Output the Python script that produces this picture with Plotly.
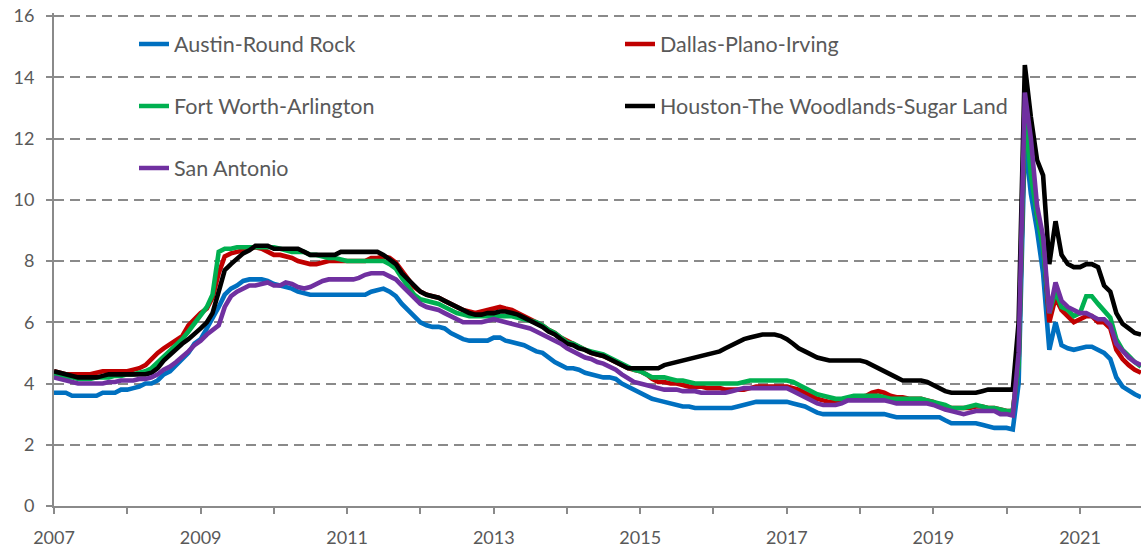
import pandas as pd
import plotly.graph_objects as go

# Monthly series, Jan 2007 - Nov 2021 (percent)
austin = [
    3.7, 3.7, 3.7, 3.6, 3.6, 3.6, 3.6, 3.6, 3.7, 3.7, 3.7, 3.8,          # 2007
    3.8, 3.85, 3.9, 4.0, 4.0, 4.1, 4.3, 4.4, 4.6, 4.8, 5.0, 5.3,         # 2008
    5.45, 5.8, 6.1, 6.5, 6.9, 7.1, 7.2, 7.35, 7.4, 7.4, 7.4, 7.35,       # 2009
    7.25, 7.2, 7.15, 7.1, 7.0, 6.95, 6.9, 6.9, 6.9, 6.9, 6.9, 6.9,       # 2010
    6.9, 6.9, 6.9, 6.9, 7.0, 7.05, 7.1, 7.0, 6.85, 6.6, 6.4, 6.2,        # 2011
    6.0, 5.9, 5.85, 5.85, 5.8, 5.65, 5.55, 5.45, 5.4, 5.4, 5.4, 5.4,     # 2012
    5.5, 5.5, 5.4, 5.35, 5.3, 5.25, 5.15, 5.05, 5.0, 4.85, 4.7, 4.6,     # 2013
    4.5, 4.5, 4.45, 4.35, 4.3, 4.25, 4.2, 4.2, 4.15, 4.0, 3.9, 3.8,      # 2014
    3.7, 3.6, 3.5, 3.45, 3.4, 3.35, 3.3, 3.25, 3.25, 3.2, 3.2, 3.2,      # 2015
    3.2, 3.2, 3.2, 3.2, 3.25, 3.3, 3.35, 3.4, 3.4, 3.4, 3.4, 3.4,        # 2016
    3.4, 3.35, 3.3, 3.25, 3.15, 3.05, 3.0, 3.0, 3.0, 3.0, 3.0, 3.0,      # 2017
    3.0, 3.0, 3.0, 3.0, 3.0, 2.95, 2.9, 2.9, 2.9, 2.9, 2.9, 2.9,         # 2018
    2.9, 2.9, 2.8, 2.7, 2.7, 2.7, 2.7, 2.7, 2.65, 2.6, 2.55, 2.55,       # 2019
    2.55, 2.5, 4.0, 12.0, 10.2, 9.0, 7.6, 5.1, 6.0, 5.25, 5.15, 5.1,     # 2020
    5.15, 5.2, 5.2, 5.1, 5.0, 4.8, 4.2, 3.9, 3.75, 3.65, 3.55,           # 2021
]
dallas = [
    4.4, 4.35, 4.3, 4.3, 4.3, 4.3, 4.3, 4.35, 4.4, 4.4, 4.4, 4.4,
    4.4, 4.45, 4.5, 4.6, 4.8, 5.0, 5.15, 5.3, 5.45, 5.55, 5.9, 6.1,
    6.3, 6.45, 6.8, 7.6, 8.15, 8.25, 8.3, 8.35, 8.4, 8.45, 8.4, 8.3,
    8.2, 8.2, 8.15, 8.1, 8.0, 7.95, 7.9, 7.9, 7.95, 8.0, 8.0, 8.0,
    8.0, 8.0, 8.0, 8.0, 8.1, 8.1, 8.15, 8.1, 7.95, 7.7, 7.4, 7.15,
    7.0, 6.9, 6.85, 6.8, 6.7, 6.6, 6.5, 6.4, 6.35, 6.3, 6.35, 6.4,
    6.45, 6.5, 6.45, 6.4, 6.3, 6.2, 6.1, 6.0, 5.9, 5.75, 5.65, 5.5,
    5.4, 5.3, 5.2, 5.1, 5.0, 4.95, 4.9, 4.8, 4.7, 4.6, 4.5, 4.45,
    4.4, 4.3, 4.15, 4.05, 4.05, 4.0, 4.0, 3.95, 3.9, 3.9, 3.9, 3.85,
    3.85, 3.85, 3.8, 3.8, 3.8, 3.8, 3.85, 3.9, 3.9, 3.9, 3.9, 3.9,
    3.9, 3.85, 3.8, 3.7, 3.6, 3.5, 3.45, 3.4, 3.4, 3.45, 3.5, 3.5,
    3.55, 3.6, 3.7, 3.75, 3.7, 3.6, 3.55, 3.55, 3.5, 3.5, 3.5, 3.45,
    3.4, 3.3, 3.25, 3.2, 3.2, 3.2, 3.2, 3.25, 3.25, 3.2, 3.2, 3.15,
    3.1, 3.1, 4.7, 12.8, 11.5, 9.5, 8.6, 6.0, 6.8, 6.4, 6.2, 6.0,
    6.1, 6.2, 6.2, 6.0, 6.0, 5.8, 5.1, 4.8, 4.6, 4.45, 4.35,
]
fort_worth = [
    4.3, 4.25, 4.2, 4.2, 4.15, 4.15, 4.15, 4.2, 4.2, 4.2, 4.25, 4.25,
    4.3, 4.3, 4.35, 4.4, 4.5, 4.7, 4.9, 5.05, 5.25, 5.45, 5.7, 5.95,
    6.2, 6.5, 6.9, 8.3, 8.4, 8.4, 8.45, 8.45, 8.45, 8.45, 8.45, 8.45,
    8.45, 8.4, 8.35, 8.3, 8.3, 8.3, 8.2, 8.2, 8.15, 8.1, 8.1, 8.05,
    8.0, 8.0, 8.0, 8.0, 8.0, 8.0, 8.0, 7.9, 7.75, 7.45, 7.15, 6.9,
    6.75, 6.7, 6.65, 6.6, 6.5, 6.4, 6.3, 6.25, 6.2, 6.2, 6.2, 6.2,
    6.2, 6.2, 6.2, 6.2, 6.15, 6.1, 6.05, 6.0, 5.9, 5.75, 5.65, 5.5,
    5.35, 5.3, 5.2, 5.1, 5.05, 5.0, 4.95, 4.85, 4.75, 4.65, 4.55, 4.45,
    4.4, 4.3, 4.2, 4.2, 4.2, 4.15, 4.1, 4.1, 4.05, 4.0, 4.0, 4.0,
    4.0, 4.0, 4.0, 4.0, 4.0, 4.05, 4.1, 4.1, 4.1, 4.1, 4.1, 4.1,
    4.1, 4.05, 3.95, 3.85, 3.75, 3.65, 3.6, 3.55, 3.5, 3.5, 3.55, 3.6,
    3.6, 3.6, 3.6, 3.6, 3.55, 3.5, 3.5, 3.5, 3.5, 3.5, 3.5, 3.45,
    3.4, 3.35, 3.3, 3.2, 3.2, 3.2, 3.25, 3.3, 3.25, 3.2, 3.2, 3.15,
    3.1, 3.1, 4.6, 12.9, 10.8, 9.5, 8.4, 6.3, 7.0, 6.5, 6.4, 6.2,
    6.3, 6.85, 6.85, 6.6, 6.4, 6.15, 5.45, 5.1, 4.9, 4.7, 4.55,
]
houston = [
    4.4, 4.35, 4.3, 4.25, 4.2, 4.2, 4.2, 4.2, 4.25, 4.3, 4.3, 4.3,
    4.3, 4.3, 4.3, 4.3, 4.35, 4.5, 4.75, 4.95, 5.15, 5.3, 5.45, 5.6,
    5.8, 6.0, 6.3, 7.0, 7.7, 7.9, 8.05, 8.25, 8.35, 8.5, 8.5, 8.5,
    8.4, 8.4, 8.4, 8.4, 8.4, 8.3, 8.2, 8.2, 8.2, 8.2, 8.2, 8.3,
    8.3, 8.3, 8.3, 8.3, 8.3, 8.3, 8.2, 8.05, 7.9, 7.6, 7.4, 7.2,
    7.0, 6.9, 6.85, 6.8, 6.7, 6.6, 6.5, 6.4, 6.3, 6.25, 6.25, 6.3,
    6.3, 6.35, 6.35, 6.3, 6.25, 6.15, 6.05, 5.95, 5.85, 5.7, 5.6, 5.45,
    5.3, 5.25, 5.15, 5.1, 5.0, 4.95, 4.9, 4.8, 4.7, 4.6, 4.5, 4.5,
    4.5, 4.5, 4.5, 4.5, 4.6, 4.65, 4.7, 4.75, 4.8, 4.85, 4.9, 4.95,
    5.0, 5.05, 5.15, 5.25, 5.35, 5.45, 5.5, 5.55, 5.6, 5.6, 5.6, 5.55,
    5.45, 5.3, 5.15, 5.05, 4.95, 4.85, 4.8, 4.75, 4.75, 4.75, 4.75, 4.75,
    4.75, 4.7, 4.6, 4.5, 4.4, 4.3, 4.2, 4.1, 4.1, 4.1, 4.1, 4.05,
    3.95, 3.85, 3.75, 3.7, 3.7, 3.7, 3.7, 3.7, 3.75, 3.8, 3.8, 3.8,
    3.8, 3.8, 6.0, 14.4, 12.7, 11.3, 10.8, 7.9, 9.3, 8.2, 7.9, 7.8,
    7.8, 7.9, 7.9, 7.8, 7.2, 7.0, 6.3, 5.95, 5.8, 5.65, 5.6,
]
san_antonio = [
    4.2, 4.15, 4.1, 4.05, 4.0, 4.0, 4.0, 4.0, 4.0, 4.05, 4.05, 4.1,
    4.1, 4.1, 4.15, 4.15, 4.2, 4.3, 4.45, 4.55, 4.7, 4.85, 5.05, 5.25,
    5.4, 5.6, 5.75, 5.9, 6.5, 6.85, 7.0, 7.1, 7.2, 7.2, 7.25, 7.3,
    7.2, 7.2, 7.3, 7.25, 7.15, 7.1, 7.15, 7.25, 7.35, 7.4, 7.4, 7.4,
    7.4, 7.4, 7.45, 7.55, 7.6, 7.6, 7.6, 7.5, 7.4, 7.2, 7.0, 6.8,
    6.6, 6.5, 6.45, 6.4, 6.3, 6.2, 6.1, 6.0, 6.0, 6.0, 6.0, 6.05,
    6.1, 6.05, 6.0, 5.95, 5.9, 5.85, 5.8, 5.7, 5.6, 5.5, 5.4, 5.3,
    5.15, 5.05, 4.95, 4.85, 4.8, 4.7, 4.65, 4.55, 4.45, 4.3, 4.15, 4.05,
    4.0, 3.95, 3.9, 3.85, 3.8, 3.8, 3.8, 3.75, 3.75, 3.75, 3.7, 3.7,
    3.7, 3.7, 3.7, 3.75, 3.8, 3.85, 3.85, 3.85, 3.85, 3.85, 3.85, 3.85,
    3.85, 3.75, 3.65, 3.55, 3.45, 3.35, 3.3, 3.3, 3.3, 3.35, 3.45, 3.45,
    3.45, 3.45, 3.45, 3.45, 3.45, 3.4, 3.35, 3.35, 3.35, 3.35, 3.35, 3.35,
    3.3, 3.2, 3.15, 3.1, 3.05, 3.0, 3.05, 3.1, 3.1, 3.1, 3.1, 3.0,
    3.0, 2.95, 5.0, 13.5, 12.0, 9.8, 8.8, 6.3, 7.3, 6.7, 6.5, 6.4,
    6.3, 6.3, 6.2, 6.1, 6.1, 5.9, 5.3, 5.05, 4.85, 4.7, 4.6,
]

series_names = ["Austin-Round Rock", "Dallas-Plano-Irving", "Fort Worth-Arlington",
                "Houston-The Woodlands-Sugar Land", "San Antonio"]
series_values = [austin, dallas, fort_worth, houston, san_antonio]
series_colors = ["#0070C0", "#C00000", "#00B050", "#000000", "#7030A0"]

months = pd.date_range("2007-01-01", periods=len(austin), freq="MS")

tick_years = list(range(2007, 2022))
tick_vals = [f"{y}-01-01" for y in tick_years]
tick_text = [str(y) if y % 2 == 1 else "" for y in tick_years]

y_ticks = list(range(0, 17, 2))
Y_MAX = 16.1  # a hair above 16 so the top gridline is drawn

TXT = "#595959"
GRID = "#8a8a8a"
FONT = "Lato"

fig = go.Figure()
legend_ids = ["legend", "legend2", "legend3", "legend4", "legend5"]
for name, vals, col, lg in zip(series_names, series_values, series_colors, legend_ids):
    fig.add_trace(go.Scatter(x=months, y=vals, name=name, mode="lines",
                             line=dict(color=col, width=4.6), legend=lg))

# figure fills the window (page body margin removed below)
W, H = 1141, 553
PX_PER_UNIT = 30.625
PLOT_L, PLOT_R, PLOT_B = 54, 1141, 506
PLOT_T = PLOT_B - Y_MAX * PX_PER_UNIT
W_PLOT = PLOT_R - PLOT_L
H_PLOT = PLOT_B - PLOT_T
def lx(px):
    return (px - PLOT_L) / W_PLOT
def ly(py):
    return (PLOT_B - py) / H_PLOT

leg_common = dict(font=dict(family=FONT, size=21.5, color=TXT), bgcolor="rgba(0,0,0,0)",
                  xanchor="left", yanchor="middle", borderwidth=0)
pos = [(134, 44), (620, 44), (134, 106), (620, 106), (134, 168)]
legend_layout = {}
for lg, (px, py) in zip(legend_ids, pos):
    legend_layout[lg] = dict(x=lx(px), y=ly(py), **leg_common)

fig.update_layout(
    width=W, height=H, autosize=False,
    margin=dict(l=PLOT_L, r=W - PLOT_R, t=round(PLOT_T), b=H - PLOT_B, autoexpand=False),
    paper_bgcolor="white", plot_bgcolor="white",
    font=dict(family=FONT, color=TXT),
    showlegend=True,
    **legend_layout,
)
fig.update_xaxes(
    range=["2007-01-01", "2021-11-01"],
    tickmode="array", tickvals=tick_vals, ticktext=tick_text,
    showgrid=False, zeroline=False, automargin=False,
    showline=True, linecolor=GRID, linewidth=2,
    ticks="outside", ticklen=6, tickwidth=2, tickcolor=GRID,
    tickfont=dict(family=FONT, size=18, color=TXT),
    ticklabelstandoff=8,
)
fig.update_yaxes(
    range=[0, Y_MAX], tickmode="array", tickvals=y_ticks,
    showgrid=True, gridcolor=GRID, gridwidth=2, griddash="10px,6px",
    zeroline=False, automargin=False,
    showline=True, linecolor=GRID, linewidth=2,
    ticks="outside", ticklen=6, tickwidth=2, tickcolor=GRID,
    tickfont=dict(family=FONT, size=18, color=TXT),
    ticklabelstandoff=8, ticklabeloverflow="allow",
)

fig.write_html(
    "out.html",
    config={"displayModeBar": False},
    post_script="document.body.style.margin='0'; document.body.style.overflow='hidden';",
)
